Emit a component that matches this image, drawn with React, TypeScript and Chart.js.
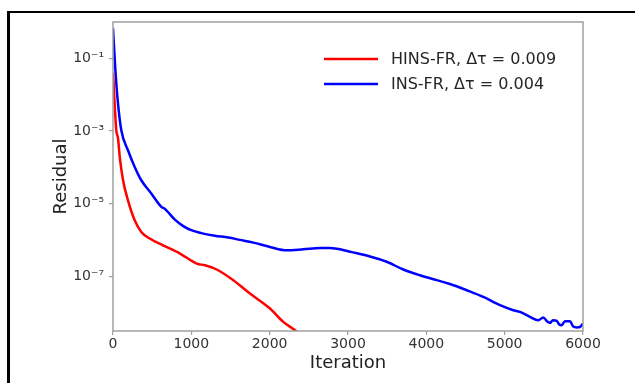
import React, { useEffect, useRef } from 'react';
import { Chart, registerables } from 'chart.js';

Chart.register(...registerables);

// HINS-FR (red) convergence history
const hinsIter = [0, 42, 64, 86, 128, 191, 277, 361, 469, 638, 855, 1068, 1174, 1324, 1536, 1749, 2004, 2174, 2323, 2451];
const hinsResidual = [4.0e-2, 1.05e-3, 6.3e-4, 1.92e-4, 4.39e-5, 1.23e-5, 3.48e-6, 1.66e-6, 1.09e-6, 7.1e-7, 4.2e-7, 2.23e-7, 2.0e-7, 1.53e-7, 7.74e-8, 3.33e-8, 1.29e-8, 5.52e-9, 3.26e-9, 1.96e-9];

// INS-FR (blue) convergence history
const insIter = [0, 29, 60, 106, 191, 277, 361, 489, 617, 660, 720, 790, 897, 1000, 1153, 1300, 1472, 1620, 1791, 2004, 2217, 2430, 2643, 2760, 2856, 3050, 3281, 3494, 3706, 3919, 4132, 4302, 4515, 4727, 4940, 5110, 5196, 5323, 5429, 5493, 5540, 5579, 5617, 5664, 5694, 5728, 5770, 5834, 5872, 5923, 5962, 6000];
const insResidual = [0.67, 0.053, 6.98e-3, 1.05e-3, 2.94e-4, 1.02e-4, 4.39e-5, 1.89e-5, 8.1e-6, 7.2e-6, 5.3e-6, 3.6e-6, 2.4e-6, 1.85e-6, 1.49e-6, 1.3e-6, 1.16e-6, 1.0e-6, 8.4e-7, 6.4e-7, 5.15e-7, 5.5e-7, 5.96e-7, 5.95e-7, 5.73e-7, 4.6e-7, 3.5e-7, 2.5e-7, 1.53e-7, 1.06e-7, 7.8e-8, 6.1e-8, 4.11e-8, 2.69e-8, 1.59e-8, 1.16e-8, 1.04e-8, 7.58e-9, 6.15e-9, 7.29e-9, 5.77e-9, 5.18e-9, 6.15e-9, 5.87e-9, 4.77e-9, 4.48e-9, 5.77e-9, 5.77e-9, 4.2e-9, 3.9e-9, 4.0e-9, 5.0e-9];

const seriesLabels = ['HINS-FR, Δτ = 0.009', 'INS-FR, Δτ = 0.004'];
const seriesColors = ['#ff0000', '#0000ff'];

const xTickValues = [0, 1000, 2000, 3000, 4000, 5000, 6000];
const yTickValues = [1e-1, 1e-3, 1e-5, 1e-7];
const yTickLabels = ['10⁻¹', '10⁻³', '10⁻⁵', '10⁻⁷'];

const FONT = "'DejaVu Sans', sans-serif";

const frameAndLegend = {
  id: 'frameAndLegend',
  afterDatasetsDraw(chart: any) {
    const { ctx, chartArea } = chart;
    ctx.save();
    ctx.strokeStyle = '#a0a0a0';
    ctx.lineWidth = 1.5;
    ctx.strokeRect(chartArea.left, chartArea.top, chartArea.right - chartArea.left, chartArea.bottom - chartArea.top);
    // legend inside upper right
    const x0 = chartArea.right - 259;
    const x1 = chartArea.right - 205;
    const tx = chartArea.right - 192;
    chart.data.datasets.forEach((ds: any, i: number) => {
      const y = chartArea.top + 37 + i * 25;
      ctx.strokeStyle = ds.borderColor;
      ctx.lineWidth = 2.5;
      ctx.beginPath();
      ctx.moveTo(x0, y);
      ctx.lineTo(x1, y);
      ctx.stroke();
      ctx.fillStyle = '#262626';
      ctx.font = `16px ${FONT}`;
      ctx.textBaseline = 'middle';
      ctx.textAlign = 'left';
      ctx.fillText(ds.label, tx, y + 1);
    });
    ctx.restore();
  },
};

export default function App() {
  const ref = useRef<HTMLCanvasElement | null>(null);
  useEffect(() => {
    if (!ref.current) return;
    const chart = new Chart(ref.current, {
      type: 'line',
      data: {
        datasets: [
          {
            label: seriesLabels[0],
            data: hinsIter.map((x, i) => ({ x, y: hinsResidual[i] })),
            borderColor: seriesColors[0],
            backgroundColor: seriesColors[0],
            borderWidth: 2.5,
            pointRadius: 0,
            cubicInterpolationMode: 'monotone',
          },
          {
            label: seriesLabels[1],
            data: insIter.map((x, i) => ({ x, y: insResidual[i] })),
            borderColor: seriesColors[1],
            backgroundColor: seriesColors[1],
            borderWidth: 2.5,
            pointRadius: 0,
            cubicInterpolationMode: 'monotone',
          },
        ],
      },
      options: {
        animation: false,
        responsive: false,
        layout: { padding: { top: 22, right: 52, left: 40, bottom: 5 } },
        plugins: { legend: { display: false }, tooltip: { enabled: false } },
        scales: {
          x: {
            type: 'linear',
            min: 0,
            max: 6000,
            afterBuildTicks: (s: any) => {
              s.ticks = xTickValues.map((v) => ({ value: v }));
            },
            afterFit: (s: any) => {
              s.height = 47;
            },
            ticks: {
              font: { family: FONT, size: 14 },
              color: '#333333',
              padding: 1,
              maxRotation: 0,
              callback: (v: any) => String(v),
            },
            grid: { drawOnChartArea: false, drawTicks: true, tickLength: 4, color: '#a0a0a0', lineWidth: 1.2 },
            border: { display: false },
            title: {
              display: true,
              text: 'Iteration',
              font: { family: FONT, size: 18 },
              color: '#222222',
              padding: { top: 0, bottom: 4 },
            },
          },
          y: {
            type: 'logarithmic',
            min: 3.1e-9,
            max: 1,
            afterBuildTicks: (s: any) => {
              s.ticks = yTickValues.map((v) => ({ value: v }));
            },
            afterFit: (s: any) => {
              s.width = 73;
            },
            ticks: {
              font: { family: FONT, size: 14 },
              color: '#333333',
              padding: 5,
              callback: (v: any) => {
                const i = yTickValues.findIndex((t) => Math.abs(Math.log10(t) - Math.log10(v)) < 1e-6);
                return i >= 0 ? yTickLabels[i] : '';
              },
            },
            grid: { drawOnChartArea: false, drawTicks: true, tickLength: 4, color: '#a0a0a0', lineWidth: 1.2 },
            border: { display: false },
            title: {
              display: true,
              text: 'Residual',
              font: { family: FONT, size: 18 },
              color: '#222222',
              padding: { top: 11, bottom: 0 },
            },
          },
        },
      },
      plugins: [frameAndLegend],
    } as any);
    return () => chart.destroy();
  }, []);

  return (
    <div style={{ position: 'fixed', left: 0, top: 0, width: 635, height: 383, background: '#ffffff' }}>
      <canvas ref={ref} width={635} height={383} style={{ position: 'absolute', left: 0, top: 0, width: 635, height: 383 }} />
      <div style={{ position: 'absolute', left: 7, top: 11, width: 628, height: 372, borderLeft: '3px solid #000', borderTop: '2px solid #000', boxSizing: 'border-box' }} />
    </div>
  );
}
